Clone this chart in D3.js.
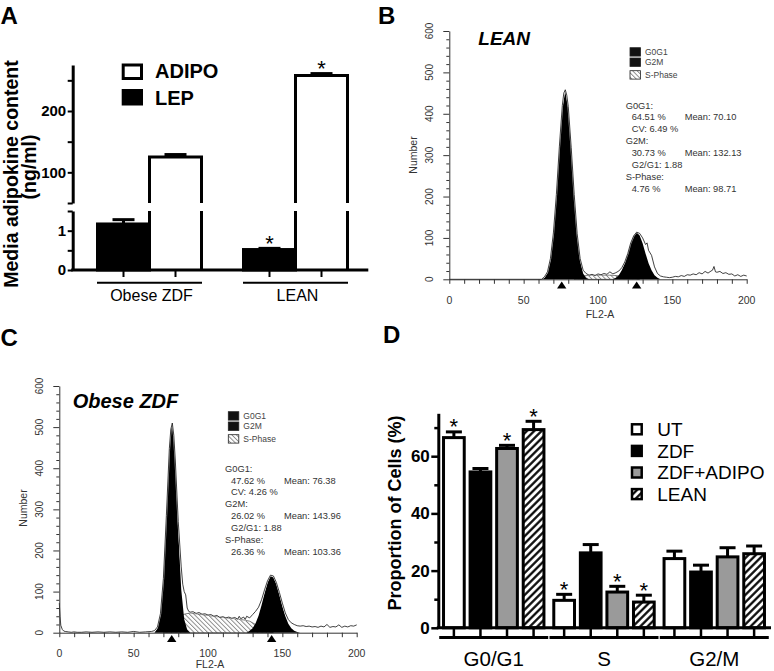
<!DOCTYPE html>
<html>
<head>
<meta charset="utf-8">
<script src="https://cdn.jsdelivr.net/npm/d3@7"></script>
<style>
  body { margin: 0; background: #fff; }
  svg { display: block; }
</style>
</head>
<body>
<script>
// ================= DATA =================
// ---- Panel A : media adipokine content ----
const groupsA = ["Obese ZDF", "LEAN"];
const seriesA = ["LEP", "ADIPO"];
const lepValues = [1.17, 0.52];
const lepErrors = [0.11, 0.03];
const adipoValues = [125, 258];
const adipoErrors = [4, 3];
const lepStars = [false, true];
const adipoStars = [false, true];
const ticksALow = [0, 0.5, 1, 1.5];
const ticksAHigh = [50, 100, 150, 200, 250];
const labelsALow = [0, 1];
const labelsAHigh = [100, 200];

// ---- Panels B / C : DNA histograms ([FL2-A channel, count]) ----
const flowXTicks = [0, 50, 100, 150, 200];
const flowYTicks = [0, 100, 200, 300, 400, 500, 600];
const flowLegend = ["G0G1", "G2M", "S-Phase"];

const leanG0G1 = [[62,0],[64,4],[66,15],[68,45],[70,105],[72,198],[74,315],[76,412],[78,455],[80,412],[82,315],[84,198],[86,105],[88,45],[90,14],[92,3],[94,0]];
const leanG2M = [[110,0],[112,4],[114,10],[116,22],[118,39],[120,62],[122,87],[124,106],[126,113],[128,106],[130,87],[132,62],[134,39],[136,22],[138,10],[140,4],[142,0]];
const leanS = [[84,0],[88,7],[92,9],[96,10],[100,10],[104,10],[108,10],[112,9],[116,8],[120,6],[124,3],[128,0]];
const leanRaw = [[0,0],[62,0],[64,6],[66,18],[68,50],[70,112],[72,205],[74,320],[76,420],[77,450],[78,458],[79,445],[80,418],[82,318],[84,205],[86,110],[88,50],[90,22],[92,14],[94,10],[96,12],[98,9],[100,13],[102,11],[104,14],[106,12],[108,18],[110,13],[112,16],[114,20],[116,28],[118,42],[120,62],[122,88],[124,105],[126,114],[128,111],[130,100],[132,84],[133,88],[134,70],[136,58],[138,30],[140,14],[142,8],[144,6],[146,5],[148,4],[150,5],[152,7],[154,6],[156,9],[158,7],[160,11],[162,10],[164,13],[166,11],[168,16],[170,13],[172,19],[174,15],[176,20],[177,22],[178,31],[179,18],[180,17],[182,19],[184,14],[186,16],[188,12],[190,13],[192,8],[194,11],[196,7],[198,10],[200,8]];
const leanMarks = [75.6, 126.0];
const leanStats = [["G0G1:"],["64.51 %","Mean: 70.10"],["CV: 6.49 %"],["G2M:"],["30.73 %","Mean: 132.13"],["G2/G1: 1.88"],["S-Phase:"],["4.76 %","Mean: 98.71"]];

const zdfG0G1 = [[64,0],[66,10],[68,42],[70,128],[72,280],[74,442],[75,495],[76,505],[77,470],[78,414],[80,246],[82,105],[84,33],[86,7],[88,0]];
const zdfG2M = [[126,0],[128,5],[130,11],[132,23],[134,41],[136,67],[138,95],[140,121],[142,138],[144,134],[146,118],[148,92],[150,64],[152,40],[154,22],[156,11],[158,5],[160,2],[162,0]];
const zdfS = [[70,0],[76,20],[80,35],[84,45],[88,48],[92,46],[96,44],[100,42],[104,40],[108,38],[112,36],[116,35],[120,33],[124,31],[128,28],[132,20],[136,10],[140,3],[144,0]];
const zdfRaw = [[0,72],[0.5,40],[1,18],[2,8],[3,4],[4,3],[6,2],[8,1],[10,2],[12,1],[15,1],[18,2],[22,1],[26,2],[30,1],[34,2],[38,1],[42,2],[46,1],[50,3],[54,1],[58,2],[62,3],[64,5],[66,14],[68,46],[70,132],[72,285],[74,448],[75,495],[76,510],[77,480],[78,420],[80,270],[82,160],[83,118],[84,100],[85,92],[86,60],[87,52],[88,50],[90,51],[92,47],[94,49],[96,45],[98,46],[100,43],[102,44],[104,40],[106,42],[108,37],[110,39],[112,36],[114,38],[116,35],[118,37],[120,33],[121,40],[122,34],[124,38],[125,32],[126,40],[128,36],[130,44],[132,52],[134,62],[136,80],[138,104],[140,126],[142,140],[144,138],[146,122],[148,98],[150,72],[152,48],[154,32],[156,24],[158,20],[160,17],[162,16],[164,17],[166,15],[168,16],[170,14],[172,15],[174,13],[176,16],[178,14],[180,20],[182,13],[184,15],[186,14],[188,19],[190,13],[192,16],[194,14],[196,17],[198,16],[200,19]];
const zdfMarks = [75.6, 142.8];
const zdfStats = [["G0G1:"],["47.62 %","Mean: 76.38"],["CV: 4.26 %"],["G2M:"],["26.02 %","Mean: 143.96"],["G2/G1: 1.88"],["S-Phase:"],["26.36 %","Mean: 103.36"]];

// ---- Panel D : cell-cycle proportions ----
const phases = ["G0/G1", "S", "G2/M"];
const treatments = ["UT", "ZDF", "ZDF+ADIPO", "LEAN"];
const utValues = [66.5, 9.6, 24.2];
const zdfValues = [54.5, 26.2, 19.5];
const zdfAdipoValues = [62.7, 12.5, 24.8];
const leanValues = [69.3, 9.0, 25.9];
const utErrors = [2.0, 2.1, 2.6];
const zdfErrors = [1.2, 2.9, 2.4];
const zdfAdipoErrors = [1.1, 2.0, 3.2];
const leanErrors = [2.9, 2.4, 2.7];
const utStars = [true, true, false];
const zdfStars = [false, false, false];
const zdfAdipoStars = [true, true, false];
const leanStars = [true, true, false];
const ticksD = [0, 10, 20, 30, 40, 50, 60, 70];
const labelsD = [0, 20, 40, 60];

// ================= DRAWING =================
const FONT = "'Liberation Sans', Arial, Helvetica, sans-serif";
const svg = d3.select("body").append("svg")
  .attr("width", 774).attr("height", 671)
  .style("font-family", FONT);

const defs = svg.append("defs");
const pD = defs.append("pattern").attr("id", "hatchD").attr("patternUnits", "userSpaceOnUse")
  .attr("width", 5.2).attr("height", 5.2).attr("patternTransform", "rotate(45)");
pD.append("rect").attr("width", 5.2).attr("height", 5.2).attr("fill", "#fff");
pD.append("line").attr("x1", 1.3).attr("x2", 1.3).attr("y1", 0).attr("y2", 5.2)
  .attr("stroke", "#000").attr("stroke-width", 2.2);
const pS = defs.append("pattern").attr("id", "hatchS").attr("patternUnits", "userSpaceOnUse")
  .attr("width", 3.2).attr("height", 3.2).attr("patternTransform", "rotate(-45)");
pS.append("rect").attr("width", 3.2).attr("height", 3.2).attr("fill", "#fff");
pS.append("line").attr("x1", 0.5).attr("x2", 0.5).attr("y1", 0).attr("y2", 3.2)
  .attr("stroke", "#444").attr("stroke-width", 0.6);

function styleAxis(ax, opts) {
  ax.attr("font-family", FONT);
  ax.select(".domain").attr("stroke", opts.color || "#000").attr("stroke-width", opts.domainW);
  ax.selectAll(".tick line").attr("stroke", opts.color || "#000").attr("stroke-width", opts.tickW);
  ax.selectAll(".tick text").attr("font-size", opts.fs).attr("font-weight", opts.fw || "normal")
    .attr("fill", opts.textColor || "#000");
}

// Panel letters
[["A", 0.5, 23.5], ["B", 378, 23.5], ["C", 0.5, 346], ["D", 383, 343]].forEach(([t, x, y]) => {
  svg.append("text").attr("x", x).attr("y", y).text(t)
    .attr("font-size", 24).attr("font-weight", "bold");
});

// ---------------- Panel A ----------------
(function () {
  const g = svg.append("g");
  const xA = d3.scaleBand().domain(groupsA).range([76.5, 368.5]);
  const xAin = d3.scaleBand().domain(seriesA).range([21, 125]);
  const yLow = d3.scaleLinear().domain([0, 1.5]).range([270, 211]);
  const yHigh = d3.scaleLinear().domain([50, 275]).range([203, 65]);
  const bw = xAin.bandwidth();

  // ADIPO bars (span the axis break)
  groupsA.forEach((grp, i) => {
    const x0 = xA(grp) + xAin("ADIPO"), x1 = x0 + bw;
    const yt = yHigh(adipoValues[i]);
    g.append("rect").attr("x", x0).attr("y", yt).attr("width", bw).attr("height", yLow(0) - yt).attr("fill", "#fff");
    g.append("path")
      .attr("d", `M${x0},${yLow(0)}V${yLow(1.5)}M${x0},${yHigh(50)}V${yt}H${x1}V${yHigh(50)}M${x1},${yLow(1.5)}V${yLow(0)}`)
      .attr("fill", "none").attr("stroke", "#000").attr("stroke-width", 3);
  });
  // LEP bars
  groupsA.forEach((grp, i) => {
    const x0 = xA(grp) + xAin("LEP");
    g.append("rect").attr("x", x0).attr("y", yLow(lepValues[i])).attr("width", bw)
      .attr("height", yLow(0) - yLow(lepValues[i])).attr("fill", "#000")
      .attr("stroke", "#000").attr("stroke-width", 3);
  });
  // error bars + stars
  const eb = (cx, yv, ye, star) => {
    g.append("line").attr("x1", cx).attr("x2", cx).attr("y1", yv).attr("y2", ye).attr("stroke", "#000").attr("stroke-width", 3);
    g.append("line").attr("x1", cx - 11).attr("x2", cx + 11).attr("y1", ye).attr("y2", ye).attr("stroke", "#000").attr("stroke-width", 3);
    if (star) g.append("text").attr("x", cx).attr("y", ye - 10 + 12.5).attr("text-anchor", "middle")
      .attr("font-size", 22).text("*");
  };
  groupsA.forEach((grp, i) => {
    const cl = xA(grp) + xAin("LEP") + bw / 2;
    eb(cl, yLow(lepValues[i]), yLow(lepValues[i] + lepErrors[i]), lepStars[i]);
    const ca = xA(grp) + xAin("ADIPO") + bw / 2;
    eb(ca, yHigh(adipoValues[i]), yHigh(adipoValues[i] + adipoErrors[i]), adipoStars[i]);
  });

  // y axes (broken)
  const axLow = g.append("g").attr("transform", "translate(72.7,0)")
    .call(d3.axisLeft(yLow).tickValues(ticksALow).tickSize(5).tickSizeOuter(0).tickPadding(1.5)
      .tickFormat(d => labelsALow.includes(d) ? d : ""));
  styleAxis(axLow, { domainW: 3, tickW: 2, fs: 15, fw: "bold" });
  const axHigh = g.append("g").attr("transform", "translate(72.7,0)")
    .call(d3.axisLeft(yHigh).tickValues(ticksAHigh).tickSize(5).tickSizeOuter(0).tickPadding(1.5)
      .tickFormat(d => labelsAHigh.includes(d) ? d : ""));
  styleAxis(axHigh, { domainW: 3, tickW: 2, fs: 15, fw: "bold" });

  // x axis
  g.append("line").attr("x1", 71.2).attr("x2", 368.3).attr("y1", yLow(0)).attr("y2", yLow(0))
    .attr("stroke", "#000").attr("stroke-width", 3);
  groupsA.forEach(grp => {
    seriesA.forEach(s => {
      const cx = xA(grp) + xAin(s) + bw / 2;
      g.append("line").attr("x1", cx).attr("x2", cx).attr("y1", yLow(0)).attr("y2", yLow(0) + 7)
        .attr("stroke", "#000").attr("stroke-width", 2);
    });
    const gc = xA(grp) + xA.bandwidth() / 2;
    g.append("line").attr("x1", gc - 52.5).attr("x2", gc + 52.5).attr("y1", 282.7).attr("y2", 282.7)
      .attr("stroke", "#000").attr("stroke-width", 2);
    g.append("text").attr("x", gc + 2).attr("y", 301).attr("text-anchor", "middle")
      .attr("font-size", 16).text(grp);
  });

  // y title
  g.append("text").attr("transform", "translate(18,174) rotate(-90)").attr("text-anchor", "middle")
    .attr("font-size", 19.5).attr("font-weight", "bold").text("Media adipokine content");
  g.append("text").attr("transform", "translate(36,167) rotate(-90)").attr("text-anchor", "middle")
    .attr("font-size", 19.5).attr("font-weight", "bold").text("(ng/ml)");

  // legend
  g.append("rect").attr("x", 123.2).attr("y", 65).attr("width", 18.3).attr("height", 13.5)
    .attr("fill", "#fff").attr("stroke", "#000").attr("stroke-width", 3);
  g.append("rect").attr("x", 121.7).attr("y", 89).attr("width", 21.3).attr("height", 16.5).attr("fill", "#000");
  g.append("text").attr("x", 155).attr("y", 78.3).attr("font-size", 20).attr("font-weight", "bold").text(seriesA[1]);
  g.append("text").attr("x", 155).attr("y", 105).attr("font-size", 20).attr("font-weight", "bold").text(seriesA[0]);
})();

// ---------------- Panels B & C ----------------
function drawFlow(o) {
  const g = svg.append("g");
  const x = d3.scaleLinear().domain([0, 200]).range([o.x0, o.x1]);
  const y = d3.scaleLinear().domain([0, 600]).range([o.y0, o.y1]);
  const area = d3.area().x(d => x(d[0])).y0(y(0)).y1(d => y(d[1]));
  const line = d3.line().x(d => x(d[0])).y(d => y(d[1]));

  g.append("path").attr("d", area(o.sPhase)).attr("fill", "url(#hatchS)")
    .attr("stroke", "#333").attr("stroke-width", 0.6);
  g.append("path").attr("d", area(o.g0g1)).attr("fill", "#000");
  g.append("path").attr("d", area(o.g2m)).attr("fill", "#000");
  g.append("path").attr("d", line(o.raw)).attr("fill", "none")
    .attr("stroke", "#fff").attr("stroke-width", 1.6).attr("stroke-opacity", 0.7);
  g.append("path").attr("d", line(o.raw)).attr("fill", "none")
    .attr("stroke", "#111").attr("stroke-width", 0.8);

  // x axis
  const xMinor = d3.range(0, 201, 10);
  const ax = g.append("g").attr("transform", `translate(0,${o.y0})`)
    .call(d3.axisBottom(x).tickValues(xMinor).tickSize(4.5).tickSizeOuter(0).tickFormat(""));
  styleAxis(ax, { domainW: 1, tickW: 1, fs: 10, color: "#333" });
  flowXTicks.forEach(v => {
    g.append("text").attr("x", x(v)).attr("y", o.y0 + 24.3).attr("text-anchor", "middle")
      .attr("font-size", 10.5).attr("fill", "#333").text(v);
  });
  g.append("text").attr("x", x(100) + 2).attr("y", o.y0 + o.fly).attr("text-anchor", "middle")
    .attr("font-size", 10.5).attr("fill", "#333").text("FL2-A");

  // y axis
  const yMinor = d3.range(0, 601, 20);
  const ay = g.append("g").attr("transform", `translate(${o.x0},0)`)
    .call(d3.axisLeft(y).tickValues(yMinor).tickSize(3).tickSizeOuter(0).tickFormat(""));
  styleAxis(ay, { domainW: 1, tickW: 1, fs: 10, color: "#333" });
  ay.selectAll(".tick line").filter(d => flowYTicks.includes(d)).attr("x2", -6);
  flowYTicks.forEach(v => {
    g.append("text").attr("transform", `translate(${o.x0 - 16},${y(v)}) rotate(-90)`)
      .attr("text-anchor", "middle").attr("font-size", 10).attr("fill", "#333").text(v);
  });
  g.append("text").attr("transform", `translate(${o.x0 - 32.8},${o.numY}) rotate(-90)`)
    .attr("text-anchor", "middle").attr("font-size", 10.5).attr("fill", "#333").text("Number");

  // mean markers
  o.marks.forEach(m => {
    const cx = x(m);
    g.append("path").attr("d", `M${cx},${o.y0 + 2.3}L${cx + 4.7},${o.y0 + 9.3}L${cx - 4.7},${o.y0 + 9.3}Z`).attr("fill", "#000");
  });

  // title
  g.append("text").attr("x", o.tx).attr("y", o.ty).attr("font-size", o.tfs)
    .attr("font-weight", "bold").attr("font-style", "italic").text(o.title);

  // legend
  const offs = [0, 10.3, 23];
  flowLegend.forEach((name, i) => {
    const by = o.ly + offs[i];
    g.append("rect").attr("x", o.lx).attr("y", by).attr("width", 10.5).attr("height", 8.4)
      .attr("fill", i === 2 ? "url(#hatchS)" : "#111").attr("stroke", "#222").attr("stroke-width", 0.8);
    g.append("text").attr("x", o.lx + 15).attr("y", by + 7.2).attr("font-size", 8.5).attr("fill", "#444").text(name);
  });

  // stats
  o.stats.forEach((row, i) => {
    const yy = o.sy + i * 11.9;
    const header = row.length === 1 && /:$/.test(row[0]);
    g.append("text").attr("x", header ? o.sx : o.sx + 6).attr("y", yy)
      .attr("font-size", 9.3).attr("fill", "#333").text(row[0]);
    if (row[1]) g.append("text").attr("x", o.sx + 59).attr("y", yy)
      .attr("font-size", 9.3).attr("fill", "#333").text(row[1]);
  });
}

drawFlow({
  x0: 449.3, x1: 746.7, y0: 279.3, y1: 31,
  g0g1: leanG0G1, g2m: leanG2M, sPhase: leanS, raw: leanRaw, marks: leanMarks,
  title: "LEAN", tx: 478.3, ty: 45, tfs: 19, fly: 39,
  lx: 630, ly: 47.7, sx: 625.7, sy: 108.5, stats: leanStats, numY: 155
});
drawFlow({
  x0: 59.3, x1: 356.7, y0: 632.7, y1: 386,
  g0g1: zdfG0G1, g2m: zdfG2M, sPhase: zdfS, raw: zdfRaw, marks: zdfMarks,
  title: "Obese ZDF", tx: 72.7, ty: 408, tfs: 20, fly: 35.5,
  lx: 228.3, ly: 411.7, sx: 225, sy: 471.6, stats: zdfStats, numY: 508
});

// ---------------- Panel D ----------------
(function () {
  const g = svg.append("g");
  const xD = d3.scaleBand().domain(phases).range([438.6, 769.4]);
  const xDin = d3.scaleBand().domain(treatments).range([2, xD.bandwidth() - 2]).paddingInner(0.22).paddingOuter(0.11);
  const yD = d3.scaleLinear().domain([0, 75]).range([627.8, 413.3]);
  const bw = xDin.bandwidth();
  const valuesBy = { "UT": utValues, "ZDF": zdfValues, "ZDF+ADIPO": zdfAdipoValues, "LEAN": leanValues };
  const errorsBy = { "UT": utErrors, "ZDF": zdfErrors, "ZDF+ADIPO": zdfAdipoErrors, "LEAN": leanErrors };
  const starsBy = { "UT": utStars, "ZDF": zdfStars, "ZDF+ADIPO": zdfAdipoStars, "LEAN": leanStars };
  const fills = { "UT": "#fff", "ZDF": "#000", "ZDF+ADIPO": "#9a9a9a", "LEAN": "url(#hatchD)" };

  phases.forEach((ph, pi) => {
    treatments.forEach(t => {
      const v = valuesBy[t][pi], e = errorsBy[t][pi];
      const x0 = xD(ph) + xDin(t), cx = x0 + bw / 2;
      g.append("line").attr("x1", cx).attr("x2", cx).attr("y1", yD(v)).attr("y2", yD(v + e))
        .attr("stroke", "#000").attr("stroke-width", 3);
      g.append("line").attr("x1", cx - 8).attr("x2", cx + 8).attr("y1", yD(v + e)).attr("y2", yD(v + e))
        .attr("stroke", "#000").attr("stroke-width", 3);
      g.append("rect").attr("x", x0).attr("y", yD(v)).attr("width", bw).attr("height", yD(0) - yD(v))
        .attr("fill", fills[t]).attr("stroke", "#000").attr("stroke-width", 3);
      if (starsBy[t][pi]) g.append("text").attr("x", cx).attr("y", yD(v + e) - 10 + 12.5)
        .attr("text-anchor", "middle").attr("font-size", 22).text("*");
    });
  });

  // y axis
  const ay = g.append("g").attr("transform", "translate(438.3,0)")
    .call(d3.axisLeft(yD).tickValues(ticksD).tickSize(7).tickSizeOuter(0).tickPadding(1.5)
      .tickFormat(d => labelsD.includes(d) ? d : ""));
  styleAxis(ay, { domainW: 3, tickW: 2.5, fs: 17, fw: "bold" });
  ay.selectAll(".tick line").filter(d => !labelsD.includes(d)).attr("x2", -4);

  // x axis
  g.append("line").attr("x1", 436.8).attr("x2", 771).attr("y1", yD(0)).attr("y2", yD(0))
    .attr("stroke", "#000").attr("stroke-width", 3);
  phases.forEach(ph => {
    treatments.forEach(t => {
      const cx = xD(ph) + xDin(t) + bw / 2;
      g.append("line").attr("x1", cx).attr("x2", cx).attr("y1", yD(0)).attr("y2", yD(0) + 9)
        .attr("stroke", "#000").attr("stroke-width", 2.5);
    });
    const gc = xD(ph) + xD.bandwidth() / 2;
    g.append("line").attr("x1", gc - 54.5).attr("x2", gc + 54.5).attr("y1", 637.5).attr("y2", 637.5)
      .attr("stroke", "#000").attr("stroke-width", 3);
    g.append("text").attr("x", gc).attr("y", 666).attr("text-anchor", "middle")
      .attr("font-size", 20.5).text(ph);
  });

  // y title
  g.append("text").attr("transform", "translate(401,513) rotate(-90)").attr("text-anchor", "middle")
    .attr("font-size", 18).attr("font-weight", "bold").text("Proportion of Cells (%)");

  // legend
  treatments.forEach((t, i) => {
    const cy = 429.3 + i * 21.6;
    g.append("rect").attr("x", 632).attr("y", cy - 5).attr("width", 9.7).attr("height", 10)
      .attr("fill", fills[t]).attr("stroke", "#000").attr("stroke-width", 2.5);
    g.append("text").attr("x", 657.3).attr("y", cy + 6.8).attr("font-size", 19).text(t);
  });
})();
</script>
</body>
</html>
